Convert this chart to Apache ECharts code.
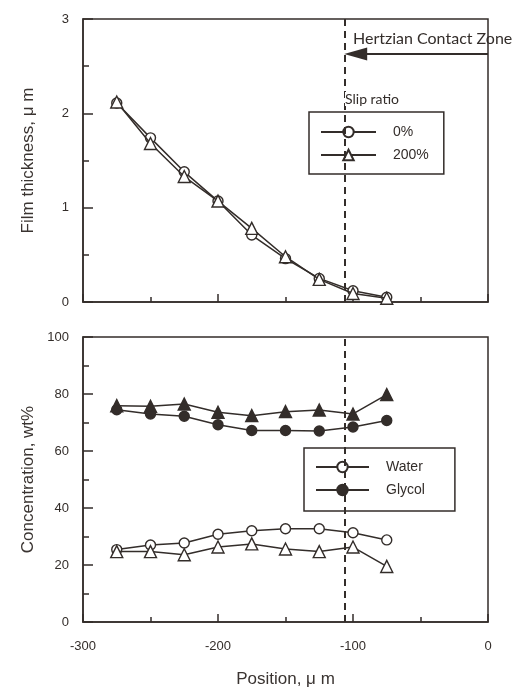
<!DOCTYPE html>
<html>
<head>
<meta charset="utf-8">
<title>Film thickness and concentration</title>
<script src="https://cdn.jsdelivr.net/npm/echarts@6/dist/echarts.min.js"></script>
<style>
    html, body { margin: 0; padding: 0; background: #fff; }
    #main { width: 519px; height: 691px; }
</style>
</head>
<body>
<div id="main"></div>
<script>
// positions along the contact, um
var positions = [-275, -250, -225, -200, -175, -150, -125, -100, -75];

// film thickness, um
var thick0 = [2.11, 1.74, 1.38, 1.07, 0.71, 0.46, 0.25, 0.12, 0.05];
var thick200 = [2.12, 1.68, 1.33, 1.07, 0.78, 0.48, 0.24, 0.09, 0.04];

// concentration, wt%
var water0 = [25.4, 27.0, 27.7, 30.8, 32.0, 32.7, 32.7, 31.3, 28.8];
var water200 = [24.7, 24.7, 23.6, 26.3, 27.4, 25.6, 24.7, 26.3, 19.5];
var glycol0 = [74.5, 73.0, 72.2, 69.2, 67.2, 67.2, 67.0, 68.4, 70.7];
var glycol200 = [75.9, 75.7, 76.5, 73.6, 72.4, 73.8, 74.4, 73.0, 79.8];

// axis ticks
var xTicks = [-300, -200, -100, 0];
var thickTicks = [0, 1, 2, 3];
var concTicks = [0, 20, 40, 60, 80, 100];

// Hertzian contact zone starts here, arrow drawn at this height
var zoneEdge = -106;
var arrowY = 2.63;

var ink = '#332d2a';

function pairs(ys) {
    var out = [];
    for (var i = 0; i < positions.length; i++) {
        out.push([positions[i], ys[i]]);
    }
    return out;
}

function lineSeries(name, ys, symbol, filled, idx) {
    return {
        name: name,
        type: 'line',
        xAxisIndex: idx,
        yAxisIndex: idx,
        data: pairs(ys),
        symbol: symbol,
        symbolSize: symbol === 'circle' ? 10 : 12,
        lineStyle: { color: ink, width: 1.5 },
        itemStyle: { color: filled ? ink : '#fff', borderColor: ink, borderWidth: 1.4 },
        z: symbol === 'circle' ? 3 : 4,
        animation: false
    };
}

function xAxis(idx, labels) {
    return {
        type: 'value',
        gridIndex: idx,
        min: xTicks[0],
        max: xTicks[xTicks.length - 1],
        interval: 100,
        axisLine: { onZero: false, lineStyle: { color: ink, width: 1.5 } },
        axisTick: { inside: true, length: 8, lineStyle: { color: ink, width: 1.5 } },
        minorTick: { show: true, splitNumber: 2, length: 5, lineStyle: { color: ink, width: 1.5 } },
        splitLine: { show: false },
        axisLabel: {
            show: labels,
            margin: 18,
            color: ink,
            fontSize: 13,
            fontFamily: 'Liberation Sans'
        },
        name: labels ? 'Position, \u03bc m' : '',
        nameLocation: 'middle',
        nameGap: 49,
        nameTextStyle: { color: '#3a3431', fontSize: 17, fontFamily: 'Liberation Sans' }
    };
}

function yAxis(idx, ticks, step, name) {
    return {
        type: 'value',
        gridIndex: idx,
        min: ticks[0],
        max: ticks[ticks.length - 1],
        interval: step,
        axisLine: { onZero: false, lineStyle: { color: ink, width: 1.5 } },
        axisTick: { inside: true, length: 10, lineStyle: { color: ink, width: 1.5 } },
        minorTick: { show: true, splitNumber: 2, length: 6, lineStyle: { color: ink, width: 1.5 } },
        splitLine: { show: false },
        axisLabel: { margin: 14, color: ink, fontSize: 13, fontFamily: 'Liberation Sans' },
        name: name,
        nameLocation: 'middle',
        nameGap: 46,
        nameTextStyle: { color: '#3a3431', fontSize: 17, fontFamily: 'Liberation Sans' }
    };
}

var zoneLine = {
    silent: true,
    symbol: 'none',
    label: { show: false },
    lineStyle: { color: ink, type: [7, 5], width: 2 },
    data: [{ xAxis: zoneEdge }]
};

var top0 = lineSeries('0%', thick0, 'circle', false, 0);
var top200 = lineSeries('200%', thick200, 'triangle', false, 0);
top0.markLine = zoneLine;
// arrow from the right border to the start of the contact zone
top200.markLine = {
    silent: true,
    symbol: ['none', 'triangle'],
    symbolSize: [13, 23],
    label: { show: false },
    lineStyle: { color: ink, type: 'solid', width: 2 },
    data: [[{ coord: [0, arrowY] }, { coord: [zoneEdge + 8, arrowY] }]]
};

var water = lineSeries('Water', water0, 'circle', false, 1);
var glycol = lineSeries('Glycol', glycol0, 'circle', true, 1);
var water2 = lineSeries('Water 200%', water200, 'triangle', false, 1);
var glycol2 = lineSeries('Glycol 200%', glycol200, 'triangle', true, 1);
water.markLine = zoneLine;

var legendText = {
    color: ink,
    fontSize: 14,
    fontFamily: 'Liberation Sans',
    padding: [0, 0, 0, 12]
};

var myChart = echarts.init(document.getElementById('main'), null, { renderer: 'canvas' });
myChart.setOption({
    backgroundColor: '#fff',
    animation: false,
    grid: [
        { left: 83, top: 19, width: 405, height: 283, show: true, borderColor: ink, borderWidth: 1.5 },
        { left: 83, top: 337, width: 405, height: 285, show: true, borderColor: ink, borderWidth: 1.5 }
    ],
    xAxis: [xAxis(0, false), xAxis(1, true)],
    yAxis: [
        yAxis(0, thickTicks, 1, 'Film thickness, \u03bc m'),
        yAxis(1, concTicks, 20, 'Concentration, wt%')
    ],
    legend: [
        {
            data: ['0%', '200%'],
            orient: 'vertical',
            left: 309,
            top: 112,
            itemWidth: 55,
            itemHeight: 13,
            itemGap: 9,
            padding: [13, 15, 12, 11],
            backgroundColor: '#fff',
            borderColor: ink,
            borderWidth: 1.5,
            borderRadius: 0,
            selectedMode: false,
            textStyle: legendText
        },
        {
            data: ['Water', 'Glycol'],
            orient: 'vertical',
            left: 304,
            top: 448,
            itemWidth: 53,
            itemHeight: 13,
            itemGap: 9,
            padding: [12, 30, 14, 11],
            backgroundColor: '#fff',
            borderColor: ink,
            borderWidth: 1.5,
            borderRadius: 0,
            selectedMode: false,
            textStyle: legendText
        }
    ],
    graphic: [
        {
            type: 'text',
            left: 353,
            top: 31,
            style: { text: 'Hertzian Contact Zone', fill: ink, fontSize: 16, fontFamily: 'Lato' }
        },
        {
            type: 'text',
            left: 345,
            top: 92,
            z: 10,
            style: { text: 'Slip ratio', fill: ink, fontSize: 14, fontFamily: 'Lato', backgroundColor: '#fff' }
        }
    ],
    series: [top0, top200, water, glycol, water2, glycol2]
});
</script>
</body>
</html>
